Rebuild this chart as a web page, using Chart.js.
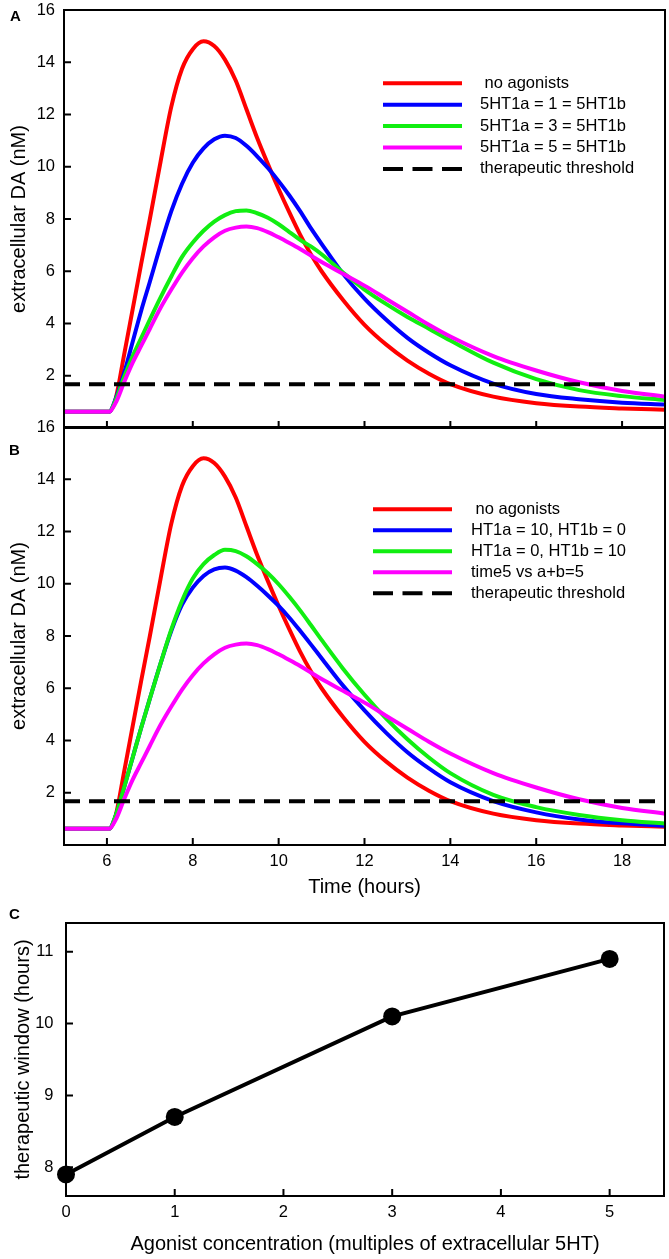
<!DOCTYPE html>
<html>
<head>
<meta charset="utf-8">
<script src="https://cdn.jsdelivr.net/npm/chart.js@4.4.1/dist/chart.umd.min.js"></script>
<style>
  html, body { margin: 0; padding: 0; background: #fff; }
  body { width: 669px; height: 1259px; position: relative; overflow: hidden; }
  .panel { position: absolute; left: 0; }
  .tag { position: absolute; font: bold 15px "Liberation Sans", Arial, sans-serif; line-height: 15px; color: #000; }
</style>
</head>
<body>
<canvas id="chartA" class="panel" style="top:0" width="669" height="440"></canvas>
<canvas id="chartB" class="panel" style="top:415px" width="669" height="490"></canvas>
<canvas id="chartC" class="panel" style="top:900px" width="669" height="359"></canvas>
<div class="tag" style="left:10px;top:8px">A</div>
<div class="tag" style="left:9px;top:442px">B</div>
<div class="tag" style="left:9px;top:906px">C</div>
<script>
// time axis (hours) and values (extracellular DA, nM)
var TIME = [5, 6, 6.05, 6.2, 6.4, 6.6, 6.8, 7, 7.25, 7.5, 7.75, 8, 8.25, 8.5, 8.75, 9, 9.25, 9.5, 9.75, 10,
            10.25, 10.5, 10.75, 11, 11.5, 12, 12.5, 13, 13.5, 14, 15, 16, 17, 18, 19];

var NO_AGONISTS = [0.62, 0.62, 0.62, 1.1, 2.8, 4.55, 6.3, 8.0, 10.2, 12.3, 13.75, 14.5, 14.8, 14.62, 14.1, 13.3, 12.2, 11.1, 10.1, 9.15,
                   8.25, 7.4, 6.65, 6.0, 4.9, 3.95, 3.2, 2.58, 2.08, 1.68, 1.2, 0.95, 0.82, 0.75, 0.7];
var HT_1 = [0.62, 0.62, 0.62, 1.1, 2.1, 3.3, 4.5, 5.6, 7.0, 8.3, 9.35, 10.15, 10.7, 11.05, 11.19, 11.1, 10.8, 10.4, 9.95, 9.45,
            8.9, 8.3, 7.65, 7.05, 5.9, 4.95, 4.15, 3.45, 2.88, 2.4, 1.7, 1.3, 1.1, 0.97, 0.9];
var HT_3 = [0.62, 0.62, 0.62, 1.05, 1.95, 2.75, 3.45, 4.15, 5.0, 5.8, 6.55, 7.1, 7.55, 7.9, 8.15, 8.3, 8.33, 8.22, 8.05, 7.8,
            7.5, 7.2, 6.95, 6.65, 5.95, 5.3, 4.75, 4.25, 3.8, 3.35, 2.5, 1.87, 1.45, 1.22, 1.07];
var HT_5 = [0.62, 0.62, 0.62, 0.95, 1.75, 2.5, 3.15, 3.8, 4.6, 5.3, 5.95, 6.5, 6.95, 7.3, 7.55, 7.67, 7.71, 7.65, 7.5, 7.3,
            7.08, 6.85, 6.6, 6.35, 5.9, 5.45, 4.95, 4.45, 3.95, 3.5, 2.75, 2.2, 1.75, 1.42, 1.2];
var HT1A_10 = [0.62, 0.62, 0.62, 1.1, 2.2, 3.35, 4.5, 5.6, 6.95, 8.2, 9.2, 9.85, 10.3, 10.55, 10.62, 10.5, 10.25, 9.92, 9.55, 9.15,
               8.7, 8.2, 7.68, 7.15, 6.1, 5.15, 4.3, 3.55, 2.93, 2.4, 1.68, 1.25, 0.98, 0.83, 0.74];
var HT1B_10 = [0.62, 0.62, 0.62, 1.1, 2.2, 3.35, 4.5, 5.6, 6.95, 8.25, 9.35, 10.2, 10.75, 11.1, 11.3, 11.25, 11.05, 10.75, 10.4, 9.98,
               9.5, 8.98, 8.42, 7.85, 6.75, 5.75, 4.85, 4.05, 3.35, 2.75, 1.92, 1.45, 1.15, 0.95, 0.82];
var THRESHOLD = 1.67;

var TIME_TICKS = [6, 8, 10, 12, 14, 16, 18];
var DA_TICKS = [2, 4, 6, 8, 10, 12, 14, 16];

// panel C
var AGONIST = [0, 1, 3, 5];
var WINDOW_H = [7.9, 8.7, 10.1, 10.9];
var AGONIST_TICKS = [0, 1, 2, 3, 4, 5];
var WINDOW_TICKS = [8, 9, 10, 11];

var FONT = '"Liberation Sans", Arial, sans-serif';
Chart.defaults.font.family = FONT;
Chart.defaults.font.size = 16.5;
Chart.defaults.color = '#000';
Chart.defaults.animation = false;

function pairs(xs, ys) {
    return xs.map(function (x, i) { return {x: x, y: ys[i]}; });
}

function curve(label, color, values, order) {
    return {
        label: label, data: pairs(TIME, values), borderColor: color, borderWidth: 4,
        pointRadius: 0, cubicInterpolationMode: 'monotone', order: order, borderJoinStyle: 'round'
    };
}

function thresholdSet() {
    return {
        label: 'therapeutic threshold', data: pairs([TIME[0], TIME[TIME.length - 1]], [THRESHOLD, THRESHOLD]),
        borderColor: '#000', borderWidth: 4, borderDash: [16, 9], pointRadius: 0, order: 0
    };
}

function setTicks(list) {
    return function (s) { s.ticks = list.map(function (v) { return {value: v}; }); };
}

// fixed axis size, no extra label padding so chart areas line up between panels
function fixWidth(w) {
    return function (s) { s.width = w; s.paddingTop = 0; s.paddingBottom = 0; };
}
function fixHeight(h) {
    return function (s) { s.height = h; s.paddingLeft = 0; s.paddingRight = 0; };
}

// frame box + ticks pointing into the plot
var frameTicks = {
    id: 'frameTicks',
    afterDraw: function (chart) {
        var ctx = chart.ctx, a = chart.chartArea, sx = chart.scales.x, sy = chart.scales.y;
        ctx.save();
        ctx.strokeStyle = '#000';
        ctx.lineWidth = 2;
        ctx.beginPath();
        sx.ticks.forEach(function (t) {
            var p = sx.getPixelForValue(t.value);
            ctx.moveTo(p, a.bottom); ctx.lineTo(p, a.bottom - 7);
        });
        sy.ticks.forEach(function (t) {
            var p = sy.getPixelForValue(t.value);
            ctx.moveTo(a.left, p); ctx.lineTo(a.left + 7, p);
        });
        ctx.stroke();
        ctx.strokeRect(a.left, a.top, a.right - a.left, a.bottom - a.top);
        ctx.restore();
    }
};

// legend drawn inside the plot like the original
var lineLegend = {
    id: 'lineLegend',
    afterDraw: function (chart, args, o) {
        if (!o || o.x0 === undefined) return;
        var ctx = chart.ctx;
        ctx.save();
        chart.data.datasets.forEach(function (ds, i) {
            var y = o.y + i * o.dy;
            ctx.beginPath();
            ctx.setLineDash(ds.borderDash ? o.dash : []);
            ctx.strokeStyle = ds.borderColor;
            ctx.lineWidth = 4;
            ctx.moveTo(o.x0, y); ctx.lineTo(o.x1, y);
            ctx.stroke();
            ctx.setLineDash([]);
            ctx.fillStyle = '#000';
            ctx.font = '16.5px ' + FONT;
            ctx.textBaseline = 'middle';
            ctx.fillText(ds.label, o.textX, y);
        });
        ctx.restore();
    }
};

function daOptions(pad, xAxis, legend) {
    return {
        responsive: false,
        layout: {padding: pad, autoPadding: false},
        plugins: {legend: {display: false}, tooltip: {enabled: false}, lineLegend: legend},
        scales: {
            x: Object.assign({
                type: 'linear', min: 5, max: 19,
                afterBuildTicks: setTicks(TIME_TICKS),
                grid: {display: false, drawTicks: false}, border: {display: false}
            }, xAxis),
            y: {
                type: 'linear', min: 0, max: 16,
                afterBuildTicks: setTicks(DA_TICKS),
                afterFit: fixWidth(64),
                grid: {display: false, drawTicks: false}, border: {display: false},
                ticks: {padding: 9, autoSkip: false},
                title: {display: true, text: 'extracellular DA (nM)', font: {size: 20}, padding: {top: 7, bottom: 0}}
            }
        }
    };
}

new Chart(document.getElementById('chartA'), {
    type: 'line',
    data: {datasets: [
        curve(' no agonists', '#ff0000', NO_AGONISTS, 4),
        curve('5HT1a = 1 = 5HT1b', '#0000ff', HT_1, 3),
        curve('5HT1a = 3 = 5HT1b', '#11ee11', HT_3, 2),
        curve('5HT1a = 5 = 5HT1b', '#ff00ff', HT_5, 1),
        thresholdSet()
    ]},
    options: daOptions({top: 10, right: 4, bottom: 12, left: 0},
        {ticks: {display: false}, afterFit: fixHeight(0)},
        {x0: 383, x1: 462, textX: 480, y: 83.3, dy: 21.4, dash: [20, 9.5]}),
    plugins: [frameTicks, lineLegend]
});

new Chart(document.getElementById('chartB'), {
    type: 'line',
    data: {datasets: [
        curve(' no agonists', '#ff0000', NO_AGONISTS, 4),
        curve('HT1a = 10, HT1b = 0', '#0000ff', HT1A_10, 3),
        curve('HT1a = 0, HT1b = 10', '#11ee11', HT1B_10, 2),
        curve('time5 vs a+b=5', '#ff00ff', HT_5, 1),
        thresholdSet()
    ]},
    options: daOptions({top: 12, right: 4, bottom: 0, left: 0},
        {ticks: {padding: 7, autoSkip: false, maxRotation: 0},
         afterFit: fixHeight(60),
         title: {display: true, text: 'Time (hours)', font: {size: 20}, padding: {top: 0, bottom: 6}}},
        {x0: 373, x1: 452, textX: 471, y: 94.3, dy: 21, dash: [20, 9.5]}),
    plugins: [frameTicks, lineLegend]
});

new Chart(document.getElementById('chartC'), {
    type: 'line',
    data: {datasets: [{
        label: 'therapeutic window', data: pairs(AGONIST, WINDOW_H),
        borderColor: '#000', borderWidth: 4, tension: 0,
        pointRadius: 9, pointBackgroundColor: '#000', pointBorderWidth: 0, clip: false
    }]},
    options: {
        responsive: false,
        layout: {padding: {top: 23, right: 5, bottom: 0, left: 0}, autoPadding: false},
        plugins: {legend: {display: false}, tooltip: {enabled: false}},
        scales: {
            x: {
                type: 'linear', min: 0, max: 5.5,
                afterBuildTicks: setTicks(AGONIST_TICKS),
                afterFit: fixHeight(63),
                grid: {display: false, drawTicks: false}, border: {display: false},
                ticks: {padding: 7, autoSkip: false, maxRotation: 0},
                title: {display: true, text: 'Agonist concentration (multiples of extracellular 5HT)', font: {size: 20}, padding: {top: 0, bottom: 3}}
            },
            y: {
                type: 'linear', min: 7.6, max: 11.4,
                afterBuildTicks: setTicks(WINDOW_TICKS),
                afterFit: fixWidth(66),
                grid: {display: false, drawTicks: false}, border: {display: false},
                ticks: {padding: 12.5, autoSkip: false},
                title: {display: true, text: 'therapeutic window (hours)', font: {size: 20}, padding: {top: 11.5, bottom: 0}}
            }
        }
    },
    plugins: [frameTicks]
});
</script>
</body>
</html>
